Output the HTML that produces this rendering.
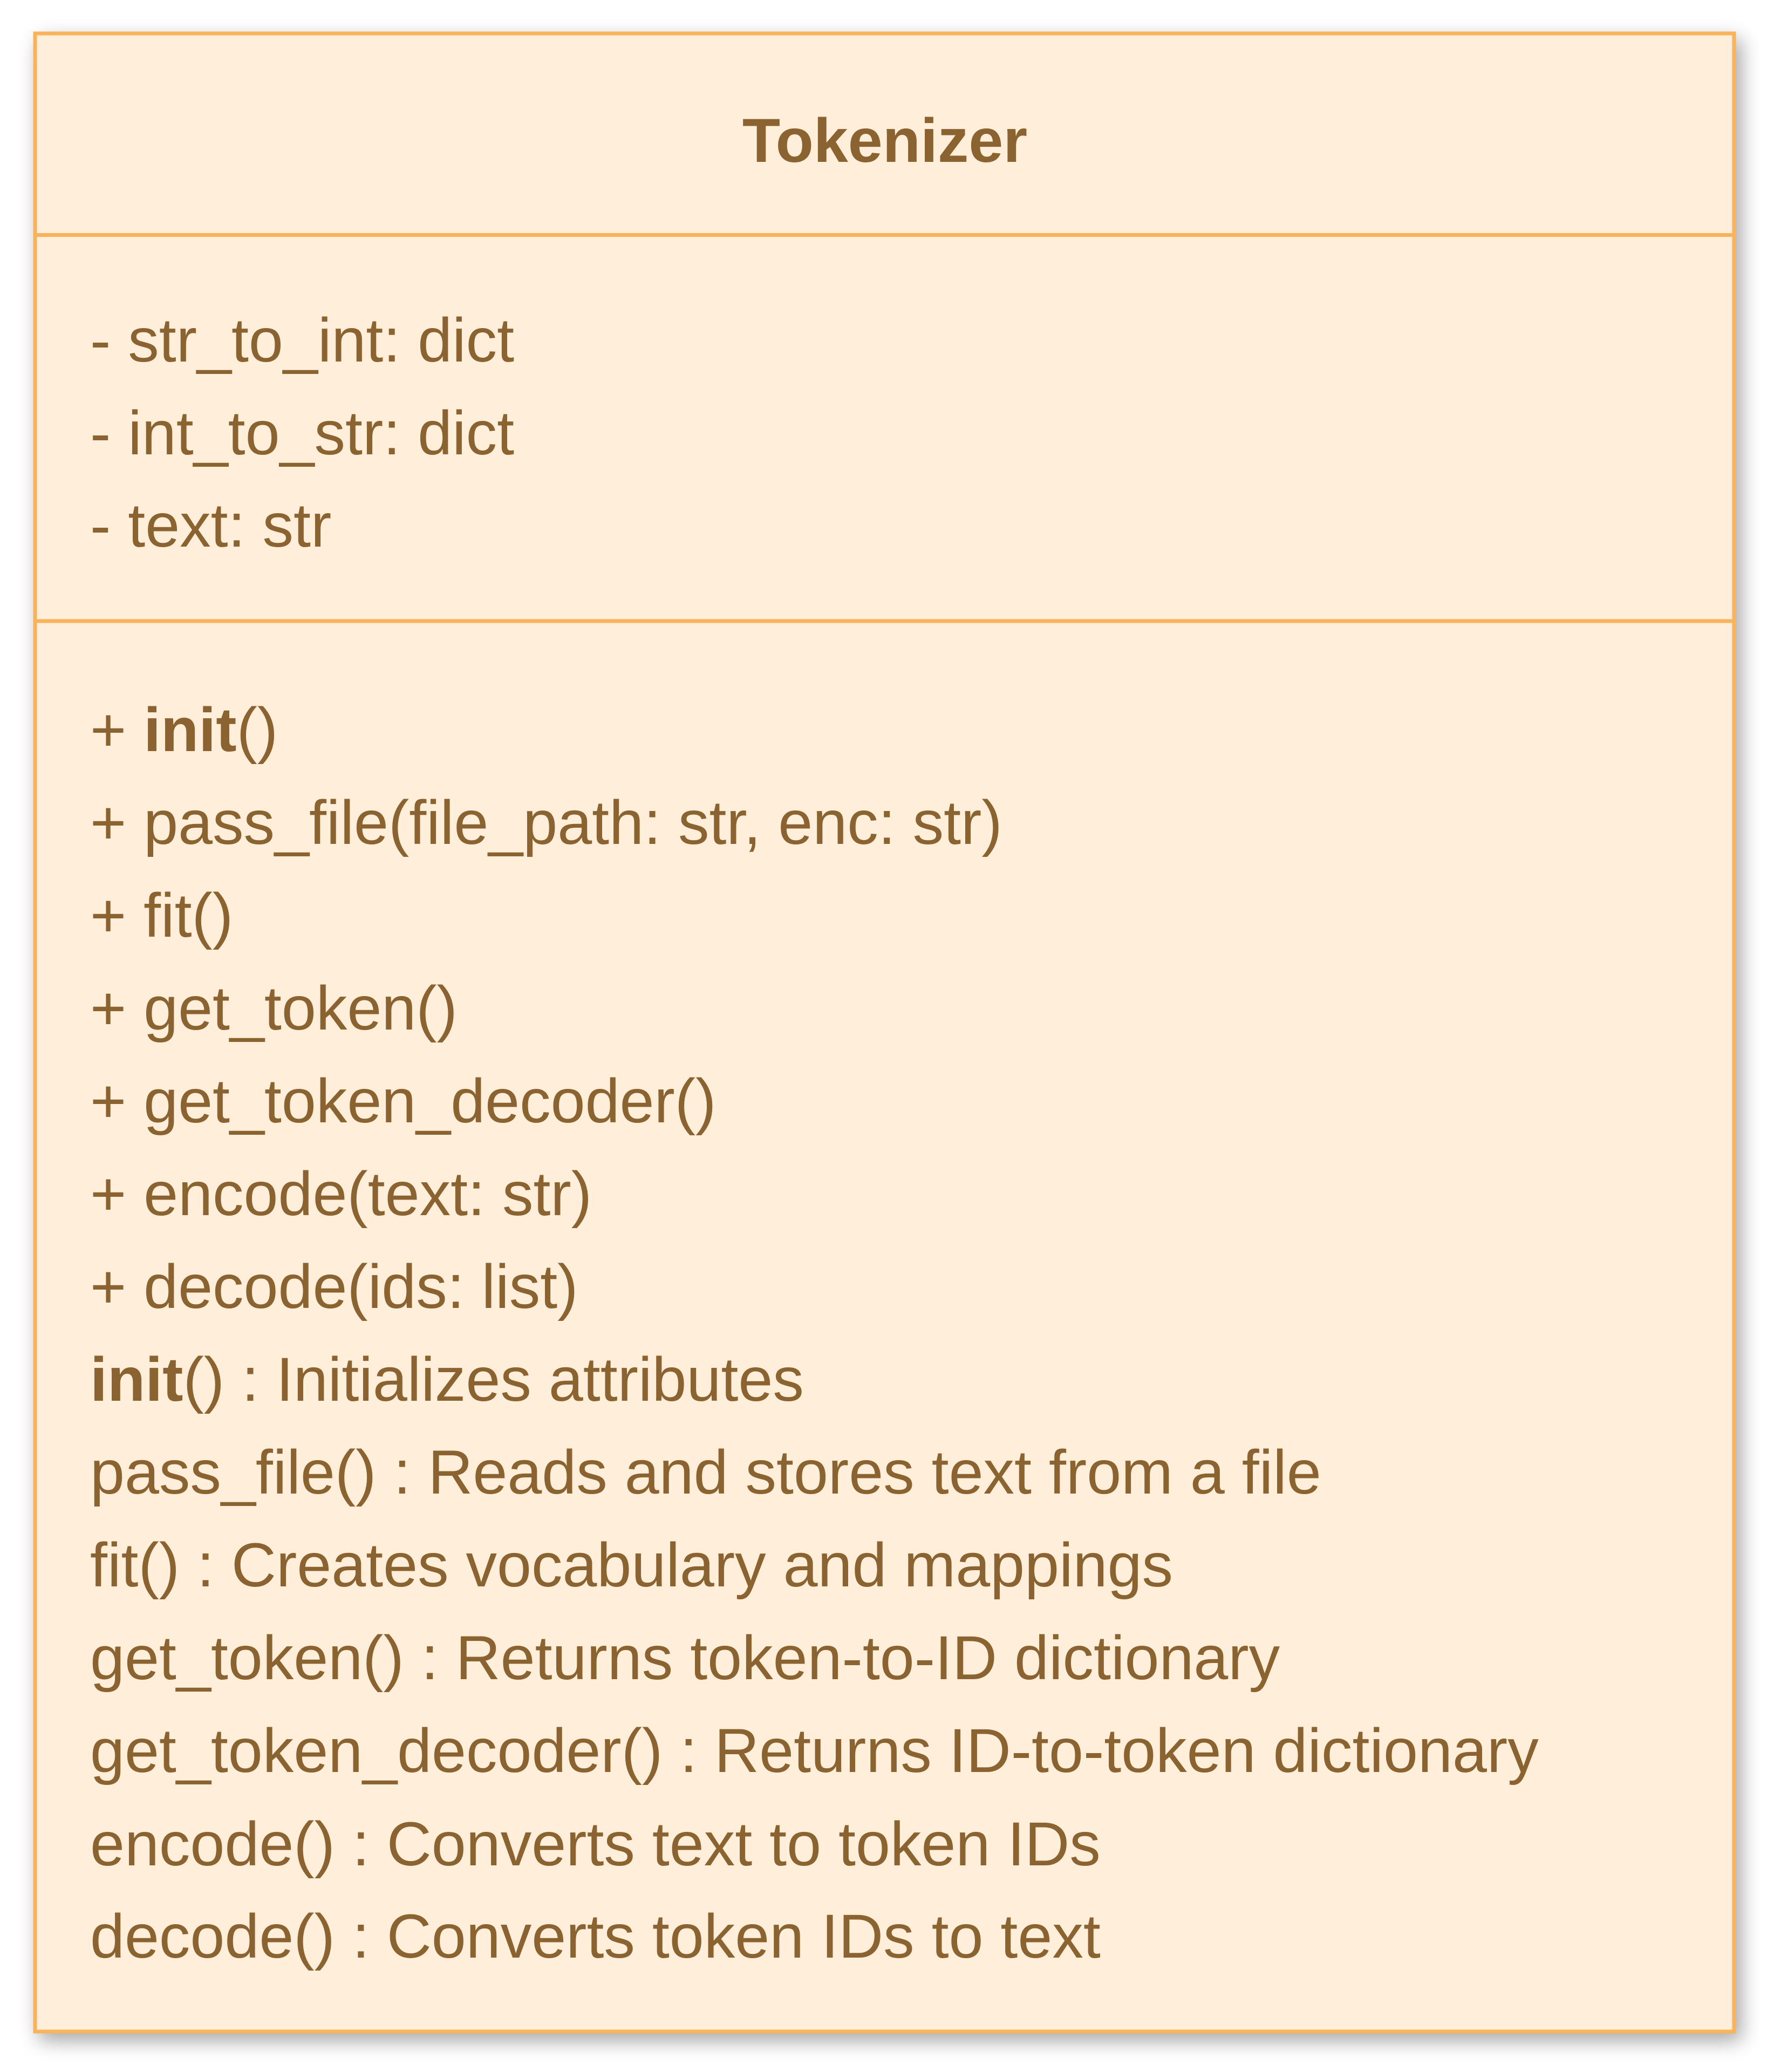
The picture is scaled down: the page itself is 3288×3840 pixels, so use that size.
<!DOCTYPE html>
<html><head><meta charset="utf-8">
<style>
html,body{margin:0;padding:0;background:#fff;width:3288px;height:3840px;overflow:hidden}
svg{display:block}
text{font-family:"Liberation Sans",Arial,sans-serif;font-size:115px;fill:#8B6331}
</style></head><body>
<svg width="3288" height="3840" viewBox="0 0 3288 3840" xmlns="http://www.w3.org/2000/svg">
<defs>
<filter id="sh" x="-5%" y="-5%" width="115%" height="115%">
<feGaussianBlur in="SourceAlpha" stdDeviation="18"/>
<feOffset dx="10" dy="14" result="b"/>
<feComponentTransfer><feFuncA type="linear" slope="0.35"/></feComponentTransfer>
<feMerge><feMergeNode/><feMergeNode in="SourceGraphic"/></feMerge>
</filter>
</defs>
<rect x="65" y="62" width="3149" height="3703" fill="#FFEEDA" stroke="#F9B35A" stroke-width="7" filter="url(#sh)"/>
<line x1="65" y1="435.5" x2="3214" y2="435.5" stroke="#F9B35A" stroke-width="7"/>
<line x1="65" y1="1151" x2="3214" y2="1151" stroke="#F9B35A" stroke-width="7"/>
<text x="1640" y="300" text-anchor="middle" font-weight="bold">Tokenizer</text>
<text x="167" y="670">- str_to_int: dict</text>
<text x="167" y="842">- int_to_str: dict</text>
<text x="167" y="1013">- text: str</text>
<text x="167" y="1392">+ <tspan font-weight="bold">init</tspan>()</text>
<text x="167" y="1564">+ pass_file(file_path: str, enc: str)</text>
<text x="167" y="1736">+ fit()</text>
<text x="167" y="1908">+ get_token()</text>
<text x="167" y="2080">+ get_token_decoder()</text>
<text x="167" y="2252">+ encode(text: str)</text>
<text x="167" y="2424">+ decode(ids: list)</text>
<text x="167" y="2596"><tspan font-weight="bold">init</tspan>() : Initializes attributes</text>
<text x="167" y="2768">pass_file() : Reads and stores text from a file</text>
<text x="167" y="2940">fit() : Creates vocabulary and mappings</text>
<text x="167" y="3112">get_token() : Returns token-to-ID dictionary</text>
<text x="167" y="3284">get_token_decoder() : Returns ID-to-token dictionary</text>
<text x="167" y="3457">encode() : Converts text to token IDs</text>
<text x="167" y="3628">decode() : Converts token IDs to text</text>
</svg>
</body></html>
